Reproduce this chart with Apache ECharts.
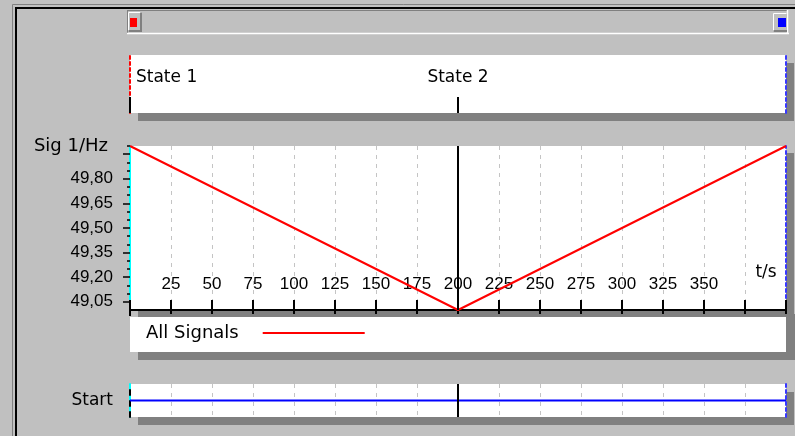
<!DOCTYPE html>
<html>
<head>
<meta charset="utf-8">
<script src="https://cdn.jsdelivr.net/npm/echarts@6/dist/echarts.min.js"></script>
<style>
  html, body { margin: 0; padding: 0; background: #c0c0c0; }
  #chart { width: 795px; height: 436px; }
</style>
</head>
<body>
<div id="chart"></div>
<script>
// Signal "Sig 1" (Hz) over time (s)
const sigTimes = [0, 200, 400];
const sigValues = [50.00, 49.00, 50.00];

// Digital "Start" signal
const startTimes = [0, 400];
const startLevels = [1, 1];

// State markers along the time axis
const stateNames = ['State 1', 'State 2'];
const stateTimes = [0, 200];
const cursorTime = 200;

// Axis ticks and labels
const timeLabels = [25, 50, 75, 100, 125, 150, 175, 200, 225, 250, 275, 300, 325, 350];
const sigLabels = [49.05, 49.20, 49.35, 49.50, 49.65, 49.80];
const sigMajorTicks = [49.05, 49.20, 49.35, 49.50, 49.65, 49.80, 49.95];
const sigMinorTicks = [49.10, 49.15, 49.25, 49.30, 49.40, 49.45, 49.55, 49.60,
                       49.70, 49.75, 49.85, 49.90, 50.00];

const TXT = 'DejaVu Sans';
const NUM = 'Liberation Sans';
const GRAY = '#c0c0c0';
const SHADOW = '#808080';

const chart = echarts.init(document.getElementById('chart'), null, { renderer: 'canvas' });

const panel = (top, height, dy) => ({
  left: 130, top: top, width: 656, height: height,
  show: true, backgroundColor: '#ffffff', borderWidth: 0,
  shadowColor: SHADOW, shadowBlur: 0, shadowOffsetX: 8, shadowOffsetY: dy,
  outerBoundsMode: 'none'
});

const hiddenAxis = {
  axisLine: { show: false }, axisTick: { show: false },
  axisLabel: { show: false }, splitLine: { show: false }
};

const timeAxis = (grid, extra) => Object.assign({
  type: 'value', gridIndex: grid, min: 0, max: 400, interval: 25
}, hiddenAxis, extra);

const edgeLine = (grid, min, max, pos, color, type) => Object.assign({
  type: 'value', gridIndex: grid, min: min, max: max, position: pos
}, hiddenAxis, {
  axisLine: { show: true, onZero: false, lineStyle: { color: color, width: 2, type: type } }
});

const cursor = {
  silent: true, symbol: 'none', label: { show: false },
  lineStyle: { color: '#000', width: 2, type: 'solid' },
  data: [{ xAxis: cursorTime }]
};

const fmtComma = v => v.toFixed(2).replace('.', ',');

chart.setOption({
  animation: false,
  backgroundColor: GRAY,
  grid: [
    panel(146, 164, 7),   // signal plot
    panel(384, 33, 8),    // Start
    panel(55, 58, 8)      // states
  ],
  xAxis: [
    timeAxis(0, {
      position: 'bottom',
      axisLine: { show: true, onZero: false, lineStyle: { color: '#000', width: 2 } },
      axisLabel: {
        show: true, inside: true, customValues: timeLabels, margin: 17,
        fontFamily: NUM, fontSize: 17, color: '#000'
      },
      splitLine: {
        show: true, showMinLine: false, showMaxLine: false,
        lineStyle: { color: '#c4c4c4', width: 1, type: [4, 5] }
      }
    }),
    timeAxis(0, {
      position: 'bottom', offset: 6,
      axisTick: { show: true, inside: true, length: 16, lineStyle: { color: '#000', width: 2 } }
    }),
    timeAxis(1, {
      position: 'bottom',
      splitLine: {
        show: true, showMinLine: false, showMaxLine: false,
        lineStyle: { color: '#c4c4c4', width: 1, type: [4, 5] }
      }
    }),
    timeAxis(2, {
      position: 'top',
      axisLabel: {
        show: true, inside: true, customValues: stateTimes, margin: 14,
        alignMinLabel: 'left',
        fontFamily: TXT, fontSize: 17, color: '#000',
        formatter: v => {
          const i = stateTimes.indexOf(v);
          return i === 0 ? '{first|' + stateNames[i] + '}' : stateNames[i];
        },
        rich: { first: { fontFamily: TXT, fontSize: 17, color: '#000', padding: [0, 0, 0, 6] } }
      }
    }),
    timeAxis(2, {
      position: 'bottom',
      axisTick: {
        show: true, inside: true, length: 16, customValues: stateTimes,
        lineStyle: { color: '#000', width: 2 }
      }
    })
  ],
  yAxis: [
    {
      type: 'value', gridIndex: 0, min: 49, max: 50, position: 'left',
      axisLine: { show: true, onZero: false, lineStyle: { color: '#00ffff', width: 2 } },
      axisTick: { show: true, customValues: sigMajorTicks, length: 7, lineStyle: { color: '#000', width: 1.5 } },
      axisLabel: {
        show: true, customValues: sigLabels, formatter: fmtComma, margin: 17,
        fontFamily: NUM, fontSize: 17, color: '#000'
      },
      splitLine: { show: false },
      name: 'Sig 1/Hz', nameLocation: 'end', nameGap: 0,
      nameTextStyle: {
        fontFamily: TXT, fontSize: 18, color: '#000',
        align: 'right', verticalAlign: 'middle', padding: [0, 22, 0, 0]
      }
    },
    Object.assign({ type: 'value', gridIndex: 0, min: 49, max: 50, position: 'left' }, hiddenAxis, {
      axisTick: { show: true, customValues: sigMinorTicks, length: 3, lineStyle: { color: '#000', width: 1.5 } }
    }),
    edgeLine(0, 49, 50, 'right', '#3838ff', [3, 3]),
    Object.assign(edgeLine(1, 0, 2, 'left', '#00ffff', 'solid'), {
      axisLabel: {
        show: true, customValues: [startLevels[0]], formatter: () => 'Start', margin: 17,
        fontFamily: TXT, fontSize: 17, color: '#000'
      }
    }),
    edgeLine(1, 0, 2, 'left', '#000', [5, 6]),
    edgeLine(1, 0, 2, 'right', '#3838ff', [3, 3]),
    edgeLine(2, 0, 1, 'left', '#ff0000', [3, 3]),
    edgeLine(2, 0, 1, 'right', '#3838ff', [3, 3])
  ],
  legend: {
    data: ['All Signals'], left: 146, top: 324, padding: 0,
    align: 'right', icon: 'rect', itemWidth: 102, itemHeight: 2,
    textStyle: { fontFamily: TXT, fontSize: 18, color: '#000', padding: [0, 19, 0, 0] }
  },
  series: [
    {
      type: 'line', name: 'All Signals', xAxisIndex: 0, yAxisIndex: 0,
      data: sigTimes.map((t, i) => [t, sigValues[i]]),
      symbol: 'none', z: 4,
      lineStyle: { color: '#ff0000', width: 2 }, itemStyle: { color: '#ff0000' },
      markLine: cursor
    },
    {
      type: 'line', name: 'Start', xAxisIndex: 2, yAxisIndex: 3,
      data: startTimes.map((t, i) => [t, startLevels[i]]),
      symbol: 'none', z: 4,
      lineStyle: { color: '#0000ff', width: 2 }, itemStyle: { color: '#0000ff' },
      markLine: cursor
    }
  ],
  graphic: [
    // sunken window frame
    { type: 'line', shape: { x1: 12.5, y1: 4.5, x2: 795, y2: 4.5 }, style: { stroke: '#808080', lineWidth: 1 } },
    { type: 'line', shape: { x1: 12.5, y1: 4.5, x2: 12.5, y2: 436 }, style: { stroke: '#808080', lineWidth: 1 } },
    { type: 'line', shape: { x1: 15, y1: 8, x2: 795, y2: 8 }, style: { stroke: '#000', lineWidth: 2 } },
    { type: 'line', shape: { x1: 16, y1: 8, x2: 16, y2: 436 }, style: { stroke: '#000', lineWidth: 2 } },
    // time range slider track
    { type: 'line', shape: { x1: 127, y1: 10.5, x2: 787, y2: 10.5 }, style: { stroke: '#808080', lineWidth: 1 } },
    { type: 'line', shape: { x1: 127.5, y1: 10, x2: 127.5, y2: 33 }, style: { stroke: '#808080', lineWidth: 1 } },
    { type: 'line', shape: { x1: 127, y1: 33.5, x2: 789, y2: 33.5 }, style: { stroke: '#ffffff', lineWidth: 1.5 } },
    { type: 'line', shape: { x1: 787.5, y1: 10, x2: 787.5, y2: 34 }, style: { stroke: '#ffffff', lineWidth: 1.5 } },
    // left handle
    { type: 'rect', shape: { x: 128, y: 12, width: 14, height: 20 }, style: { fill: GRAY } },
    { type: 'polyline', shape: { points: [[128.5, 31.5], [128.5, 12.5], [141.5, 12.5]] }, style: { stroke: '#ffffff', fill: null, lineWidth: 1 } },
    { type: 'polyline', shape: { points: [[128.5, 31], [141, 31], [141, 12.5]] }, style: { stroke: '#808080', fill: null, lineWidth: 2 } },
    { type: 'rect', shape: { x: 130, y: 18, width: 7, height: 9 }, style: { fill: '#ff0000' } },
    // right handle
    { type: 'rect', shape: { x: 773, y: 13, width: 14, height: 19 }, style: { fill: GRAY } },
    { type: 'polyline', shape: { points: [[773.5, 31.5], [773.5, 13.5], [786.5, 13.5]] }, style: { stroke: '#ffffff', fill: null, lineWidth: 1 } },
    { type: 'line', shape: { x1: 773.5, y1: 31, x2: 787, y2: 31 }, style: { stroke: '#808080', lineWidth: 2 } },
    { type: 'rect', shape: { x: 778, y: 18, width: 8, height: 9 }, style: { fill: '#0000ff' } },
    // legend panel with its drop shadow
    { type: 'rect', z: 1, shape: { x: 138, y: 314, width: 657, height: 46 }, style: { fill: SHADOW } },
    { type: 'rect', z: 1, shape: { x: 130, y: 317, width: 656, height: 35 }, style: { fill: '#ffffff' } },
    // time axis unit
    {
      type: 'text', z: 5, x: 766, y: 273,
      style: { text: 't/s', fontFamily: TXT, fontSize: 17, fill: '#000', align: 'center', verticalAlign: 'middle' }
    }
  ]
});
</script>
</body>
</html>
